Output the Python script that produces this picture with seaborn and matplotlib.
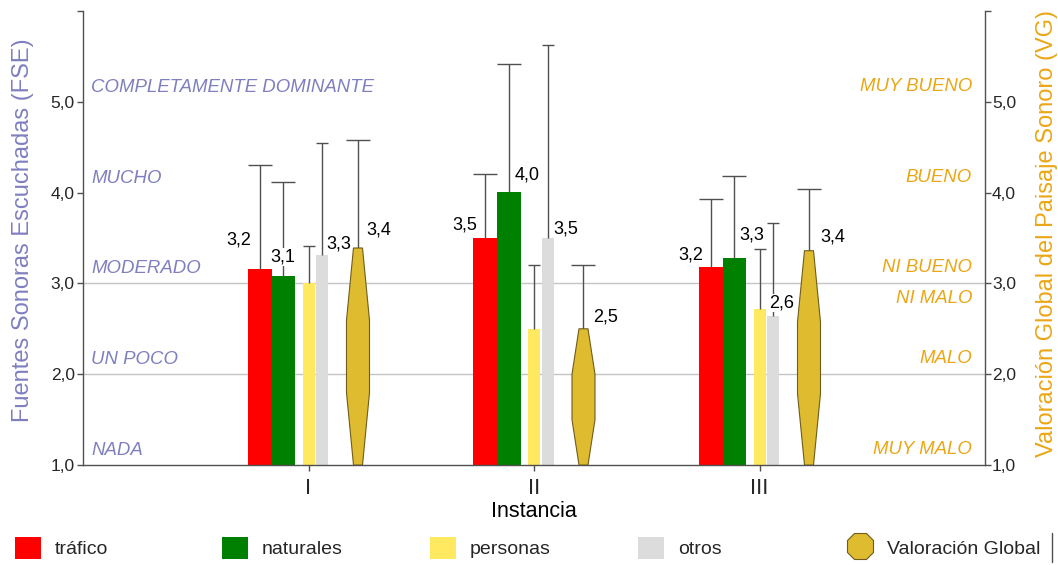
import numpy as np
import pandas as pd
import seaborn as sns
import matplotlib
matplotlib.use("Agg")
import matplotlib.pyplot as plt
from matplotlib.lines import Line2D
from matplotlib.patches import Patch

# --- datos -------------------------------------------------------------
instancias = ["I", "II", "III"]

trafico = [3.16, 3.50, 3.18]
naturales = [3.08, 4.01, 3.28]
personas = [3.00, 2.50, 2.72]
otros = [3.31, 3.50, 2.64]
valoracion = [3.39, 2.50, 3.36]

# desviación (sólo se dibuja hacia arriba)
sd_trafico = [1.14, 0.71, 0.75]
sd_naturales = [1.04, 1.41, 0.90]
sd_personas = [0.41, 0.70, 0.66]
sd_otros = [1.24, 2.13, 1.03]
sd_valoracion = [1.19, 0.70, 0.68]

escala_fse = ["NADA", "UN POCO", "MODERADO", "MUCHO", "COMPLETAMENTE DOMINANTE"]
niveles_fse = [1, 2, 3, 4, 5]
escala_vg = ["MUY MALO", "MALO", "NI MALO", "NI BUENO", "BUENO", "MUY BUENO"]
niveles_vg = [1, 2, 3, 3, 4, 5]
lado_vg = [1, 1, -1, 1, 1, 1]  # encima (+) o debajo (-) de la línea

# --- estilo ------------------------------------------------------------
sns.set_theme(style="white")
plt.rcParams["font.family"] = ["Liberation Sans", "DejaVu Sans"]

C_TRAF = "#FF0000"
C_NAT = "#008000"
C_PERS = "#FFE960"
C_OTR = "#DCDCDC"
C_VG = "#DFBB2F"
C_VG_EDGE = "#6E5D1C"
C_FSE_TXT = "#7F7FC0"
C_VG_TXT = "#EBA615"
C_AXIS = "#505050"

W, H = 1058, 565
fig = plt.figure(figsize=(W / 100, H / 100), dpi=100)
ax = fig.add_axes([83 / W, 100 / H, 902 / W, 454 / H])

x = np.arange(len(instancias), dtype=float)


def barra_error(xs, vals, sd, cap):
    """Barra de error sólo hacia arriba, con remate únicamente arriba."""
    cont = ax.errorbar(xs, vals, yerr=[np.zeros(len(vals)), sd], fmt="none",
                       ecolor=C_AXIS, elinewidth=1, capsize=cap, capthick=1,
                       zorder=2)
    for cl in cont.lines[1]:
        if np.allclose(cl.get_ydata(), vals):
            cl.set_visible(False)


# posición relativa y ancho de cada serie dentro del grupo
series = [
    ("tráfico", trafico, sd_trafico, -0.217, 0.106, C_TRAF, 8.6),
    ("naturales", naturales, sd_naturales, -0.111, 0.106, C_NAT, 8.6),
    ("personas", personas, sd_personas, 0.002, 0.053, C_PERS, 4.3),
    ("otros", otros, sd_otros, 0.060, 0.053, C_OTR, 4.3),
]

# líneas de referencia
for lvl in (2, 3):
    ax.axhline(lvl, color="#C4C4C4", lw=1, zorder=0.5)

for name, vals, sd, off, w, col, cap in series:
    df = pd.DataFrame({"pos": x + off, "valor": vals})
    sns.barplot(data=df, x="pos", y="valor", native_scale=True, width=w,
                color=col, saturation=1, errorbar=None, linewidth=0,
                orient="x", ax=ax, zorder=1)
    barra_error(x + off, vals, sd, cap)

# valoración global: octógono alargado desde la base hasta el valor
off_vg, half_w, half_tip = 0.2195, 0.051, 0.02
base = 1.0
for xi, v in zip(x + off_vg, valoracion):
    h = v - base
    xs = [xi - half_tip, xi - half_w, xi - half_w, xi - half_tip,
          xi + half_tip, xi + half_w, xi + half_w, xi + half_tip]
    ys = [base, base + h / 3, base + 2 * h / 3, v,
          v, base + 2 * h / 3, base + h / 3, base]
    ax.fill(xs, ys, facecolor=C_VG, edgecolor=C_VG_EDGE, lw=0.8, zorder=3)
barra_error(x + off_vg, valoracion, sd_valoracion, 8.3)

# etiquetas de valor (desplazamiento en píxeles respecto a la cima)
etiquetas = [
    (trafico, -0.217, [(-21, 29), (-20, 13), (-20, 12)]),
    (naturales, -0.111, [(-1, 19), (18, 17), (17, 23)]),
    (otros, 0.060, [(17, 11), (18, 9), (9, 13)]),
    (valoracion, off_vg, [(21, 18), (22, 12), (24, 14)]),
]
for vals, off, desp in etiquetas:
    for xi, v, (dx, dy) in zip(x + off, vals, desp):
        ax.annotate(f"{v:.1f}".replace(".", ","), xy=(xi, v),
                    xytext=(dx, dy), textcoords="offset pixels",
                    ha="center", va="center", fontsize=13, color="black",
                    bbox=dict(facecolor="white", edgecolor="none", pad=0.3),
                    zorder=5)

# ejes
ax.set_xlim(-1, 3)
ax.set_ylim(1, 6)
ticks = [1, 2, 3, 4, 5, 6]
tick_lbl = [f"{t:.1f}".replace(".", ",") for t in ticks[:-1]] + [""]
ax.set_yticks(ticks, tick_lbl)
ax.set_xticks(x, instancias)
ax.tick_params(axis="y", direction="out", length=4, width=1, color=C_AXIS,
               labelsize=12.5, pad=2, left=True)
ax.tick_params(axis="x", direction="out", length=4, width=1, color=C_AXIS,
               labelsize=16, pad=5, bottom=True)
for s in ("top", "right"):
    ax.spines[s].set_visible(False)
for s in ("left", "bottom"):
    ax.spines[s].set_color(C_AXIS)
    ax.spines[s].set_linewidth(1)

ax.set_xlabel("Instancia", fontsize=15.5, color="black")
ax.xaxis.set_label_coords(0.5, -0.079)
ax.set_ylabel("Fuentes Sonoras Escuchadas (FSE)", fontsize=17, color=C_FSE_TXT)
ax.yaxis.set_label_coords(-0.054, 0.517)

ax2 = ax.twinx()
ax2.set_ylim(1, 6)
ax2.set_yticks(ticks, tick_lbl)
ax2.tick_params(axis="y", direction="out", length=4, width=1, color=C_AXIS,
                labelsize=12.5, pad=1, right=True)
for s in ("top", "left", "bottom"):
    ax2.spines[s].set_visible(False)
ax2.spines["right"].set_color(C_AXIS)
ax2.spines["right"].set_linewidth(1)
ax2.set_ylabel("Valoración Global del Paisaje Sonoro (VG)", fontsize=17,
               color=C_VG_TXT)
ax2.yaxis.set_label_coords(1.057, 0.509)

# escalas verbales
ty = ax.get_yaxis_transform()
for txt, lvl in zip(escala_fse, niveles_fse):
    ax.text(0.009, lvl + 0.16, txt, transform=ty, ha="left", va="center",
            style="italic", fontsize=13.4, color=C_FSE_TXT)
for txt, lvl, lado in zip(escala_vg, niveles_vg, lado_vg):
    ax.text(0.9856, lvl + 0.17 * lado, txt, transform=ty, ha="right",
            va="center", style="italic", fontsize=13.4, color=C_VG_TXT)

# leyenda
entradas = [
    (Patch(facecolor=C_TRAF, edgecolor="none"), "tráfico", 15),
    (Patch(facecolor=C_NAT, edgecolor="none"), "naturales", 222),
    (Patch(facecolor=C_PERS, edgecolor="none"), "personas", 430),
    (Patch(facecolor=C_OTR, edgecolor="none"), "otros", 638),
    (Line2D([], [], marker="8", markersize=21, markerfacecolor=C_VG,
            markeredgecolor=C_VG_EDGE, markeredgewidth=0.8, linestyle="None"),
     "Valoración Global", 847),
]
for h, lbl, px in entradas:
    fig.legend(handles=[h], labels=[lbl], loc="center left",
               bbox_to_anchor=(px / W, 1 - 548 / H), frameon=False,
               fontsize=14, handlelength=1.34, handleheight=1.34,
               handletextpad=0.7, borderpad=0, borderaxespad=0)
fig.add_artist(Line2D([1052 / W, 1052 / W], [1 - 533 / H, 1 - 562 / H],
                      color=C_AXIS, lw=1))

fig.savefig("out.png", dpi=100)
